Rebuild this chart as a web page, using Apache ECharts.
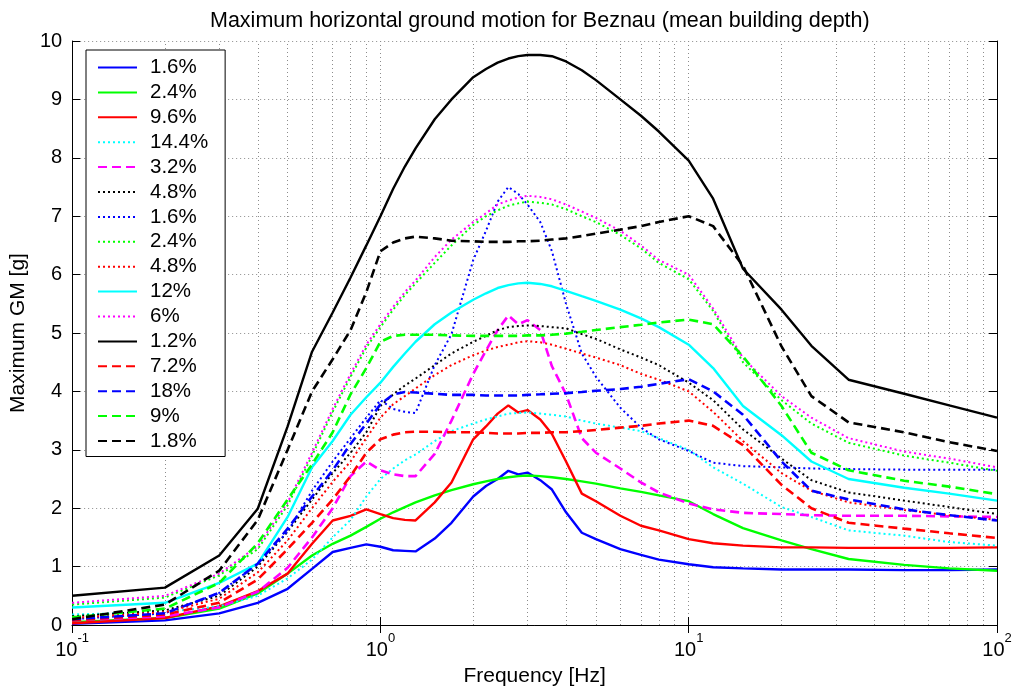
<!DOCTYPE html>
<html style="height: 100%">
<head>
    <meta charset="utf-8">
</head>
<body style="height: 100%; margin: 0; background: #fff">
<div id="main" style="width: 1015px; height: 692px"></div>
<script src="https://cdn.jsdelivr.net/npm/echarts@6/dist/echarts.min.js"></script>
<script type="text/javascript">
    // frequency grid [Hz], shared by every curve
    var freq = [0.1, 0.2, 0.3, 0.4, 0.5, 0.6, 0.7, 0.8, 0.9, 1, 1.1, 1.2, 1.3, 1.5, 1.7, 2, 2.2, 2.4, 2.6, 2.8,
        3, 3.3, 3.6, 4, 4.5, 5, 6, 7, 8, 10, 12, 15, 20, 25, 33, 50, 70, 100];

    // legend labels, in plot order
    var labels = ['1.6%', '2.4%', '9.6%', '14.4%', '3.2%', '4.8%', '1.6%', '2.4%', '4.8%', '12%', '6%', '1.2%', '7.2%', '18%', '9%', '1.8%'];

    // maximum GM [g] per curve
    var blueSolid = [0.02, 0.08, 0.2, 0.38, 0.62, 0.96, 1.25, 1.32, 1.38, 1.34, 1.28, 1.27, 1.26, 1.48, 1.75, 2.2, 2.38, 2.5, 2.64, 2.58,
        2.61, 2.48, 2.32, 1.93, 1.58, 1.47, 1.3, 1.2, 1.12, 1.04, 0.99, 0.97, 0.95, 0.95, 0.95, 0.94, 0.94, 0.95];
    var greenSolid = [0.05, 0.12, 0.28, 0.54, 0.88, 1.19, 1.39, 1.53, 1.68, 1.82, 1.93, 2.02, 2.1, 2.22, 2.31, 2.41, 2.46, 2.5, 2.53, 2.55,
        2.56, 2.55, 2.53, 2.5, 2.46, 2.42, 2.34, 2.28, 2.22, 2.12, 1.9, 1.66, 1.45, 1.3, 1.13, 1.03, 0.97, 0.93];
    var redSolid = [0.03, 0.12, 0.32, 0.58, 0.88, 1.39, 1.79, 1.87, 1.98, 1.9, 1.83, 1.8, 1.79, 2.1, 2.44, 3.18, 3.4, 3.62, 3.76, 3.64,
        3.68, 3.52, 3.27, 2.8, 2.25, 2.12, 1.87, 1.7, 1.62, 1.47, 1.4, 1.36, 1.33, 1.33, 1.32, 1.32, 1.32, 1.33];
    var cyanDotted = [0.18, 0.22, 0.32, 0.5, 0.8, 1.12, 1.5, 1.8, 2.2, 2.5, 2.68, 2.82, 2.92, 3.15, 3.32, 3.45, 3.52, 3.57, 3.62, 3.63,
        3.64, 3.62, 3.6, 3.57, 3.5, 3.45, 3.38, 3.32, 3.2, 3.0, 2.7, 2.42, 2.02, 1.85, 1.62, 1.53, 1.42, 1.36];
    var magentaDashed = [0.08, 0.15, 0.3, 0.57, 0.98, 1.5, 2.0, 2.55, 2.8, 2.65, 2.58, 2.55, 2.55, 2.93, 3.5, 4.3, 4.7, 5.05, 5.3, 5.15,
        5.22, 5.05, 4.43, 3.95, 3.2, 2.95, 2.68, 2.44, 2.27, 2.08, 1.98, 1.92, 1.9, 1.88, 1.87, 1.87, 1.86, 1.85];
    var blackDotted = [0.15, 0.25, 0.5, 1.0, 1.6, 2.15, 2.6, 2.95, 3.3, 3.75, 3.95, 4.1, 4.22, 4.45, 4.65, 4.85, 4.95, 5.05, 5.1, 5.12,
        5.13, 5.12, 5.1, 5.08, 4.98, 4.9, 4.72, 4.58, 4.45, 4.15, 3.85, 3.35, 2.85, 2.48, 2.27, 2.13, 2.02, 1.9];
    var blueDotted = [0.1, 0.2, 0.55, 1.05, 1.6, 2.3, 2.8, 3.2, 3.55, 3.85, 3.7, 3.65, 3.63, 4.45, 4.98, 6.25, 6.75, 7.25, 7.5, 7.38,
        7.2, 6.9, 6.4, 5.5, 4.65, 4.25, 3.72, 3.38, 3.18, 2.98, 2.78, 2.72, 2.7, 2.68, 2.67, 2.66, 2.66, 2.66];
    var greenDotted = [0.35, 0.47, 0.85, 1.3, 2.05, 2.9, 3.65, 4.25, 4.75, 5.1, 5.4, 5.65, 5.85, 6.2, 6.5, 6.85, 7.0, 7.1, 7.18, 7.22,
        7.25, 7.23, 7.2, 7.12, 7.0, 6.9, 6.68, 6.45, 6.2, 5.92, 5.38, 4.5, 3.85, 3.45, 3.12, 2.9, 2.78, 2.64];
    var redDotted = [0.12, 0.22, 0.45, 0.9, 1.45, 2.0, 2.45, 2.8, 3.2, 3.55, 3.78, 3.92, 4.05, 4.28, 4.45, 4.62, 4.7, 4.76, 4.8, 4.84,
        4.86, 4.84, 4.8, 4.73, 4.65, 4.58, 4.45, 4.3, 4.2, 4.0, 3.65, 3.15, 2.6, 2.3, 2.1, 1.97, 1.88, 1.8];
    var cyanSolid = [0.3, 0.38, 0.72, 1.05, 1.85, 2.7, 3.15, 3.6, 3.9, 4.15, 4.42, 4.65, 4.85, 5.15, 5.35, 5.57, 5.68, 5.77, 5.82, 5.85,
        5.86, 5.84, 5.8, 5.72, 5.63, 5.55, 5.4, 5.25, 5.1, 4.8, 4.4, 3.75, 3.25, 2.8, 2.5, 2.35, 2.25, 2.13];
    var magentaDotted = [0.38, 0.5, 0.88, 1.35, 2.1, 2.95, 3.7, 4.3, 4.8, 5.15, 5.45, 5.7, 5.9, 6.3, 6.6, 6.9, 7.05, 7.2, 7.27, 7.32,
        7.35, 7.33, 7.29, 7.2, 7.08, 6.97, 6.75, 6.5, 6.25, 6.0, 5.42, 4.57, 3.92, 3.55, 3.2, 2.97, 2.85, 2.7];
    var blackSolid = [0.5, 0.64, 1.19, 1.99, 3.4, 4.68, 5.35, 5.95, 6.5, 7.0, 7.47, 7.85, 8.16, 8.66, 9.0, 9.38, 9.52, 9.63, 9.7, 9.74,
        9.76, 9.76, 9.74, 9.65, 9.5, 9.33, 9.0, 8.72, 8.45, 7.95, 7.3, 6.1, 5.4, 4.78, 4.2, 3.96, 3.76, 3.55];
    var redDashed = [0.08, 0.18, 0.38, 0.78, 1.3, 1.75, 2.15, 2.55, 2.95, 3.18, 3.26, 3.3, 3.31, 3.31, 3.3, 3.3, 3.29, 3.28, 3.28, 3.28,
        3.29, 3.29, 3.3, 3.3, 3.32, 3.34, 3.38, 3.41, 3.45, 3.5, 3.41, 3.08, 2.4, 2.0, 1.75, 1.65, 1.57, 1.49];
    var blueDashed = [0.1, 0.2, 0.55, 1.05, 1.65, 2.2, 2.65, 3.1, 3.45, 3.78, 3.95, 3.99, 3.98, 3.96, 3.94, 3.94, 3.93, 3.93, 3.93, 3.93,
        3.94, 3.95, 3.96, 3.97, 3.99, 4.01, 4.04, 4.08, 4.13, 4.21, 4.0, 3.6, 2.8, 2.3, 2.15, 1.98, 1.88, 1.79];
    var greenDashed = [0.13, 0.28, 0.72, 1.4, 2.15, 2.75, 3.3, 3.95, 4.4, 4.85, 4.95, 4.97, 4.97, 4.97, 4.96, 4.95, 4.95, 4.95, 4.95, 4.95,
        4.96, 4.96, 4.97, 4.99, 5.02, 5.05, 5.1, 5.14, 5.18, 5.23, 5.15, 4.6, 3.75, 2.95, 2.65, 2.47, 2.37, 2.24];
    var blackDashed = [0.1, 0.35, 0.93, 1.8, 3.0, 4.0, 4.55, 5.05, 5.7, 6.4, 6.55, 6.62, 6.65, 6.62, 6.58, 6.57, 6.56, 6.56, 6.56, 6.57,
        6.57, 6.58, 6.6, 6.62, 6.66, 6.7, 6.77, 6.83, 6.9, 7.0, 6.83, 6.15, 4.77, 3.92, 3.47, 3.3, 3.13, 2.98];

    var curves = [blueSolid, greenSolid, redSolid, cyanDotted, magentaDashed, blackDotted, blueDotted, greenDotted,
        redDotted, cyanSolid, magentaDotted, blackSolid, redDashed, blueDashed, greenDashed, blackDashed];
    var colors = ['#0000ff', '#00ff00', '#ff0000', '#00ffff', '#ff00ff', '#000000', '#0000ff', '#00ff00',
        '#ff0000', '#00ffff', '#ff00ff', '#000000', '#ff0000', '#0000ff', '#00ff00', '#000000'];
    var kinds = ['solid', 'solid', 'solid', 'dotted', 'dashed', 'dotted', 'dotted', 'dotted',
        'dotted', 'solid', 'dotted', 'solid', 'dashed', 'dashed', 'dashed', 'dashed'];

    var FONT = 'Liberation Sans, Arial, Helvetica, sans-serif';
    var gridDash = { color: '#8c8c8c', width: 1, type: [1, 3] };

    // minor vertical grid lines at 2..9 of each decade
    var minorLines = [];
    [0.1, 1, 10].forEach(function (d) {
        for (var k = 2; k <= 9; k++) minorLines.push({ xAxis: +(k * d).toFixed(3) });
    });

    var series = curves.map(function (vals, i) {
        var lw = kinds[i] === 'dotted' ? 2 : (kinds[i] === 'dashed' ? 2.6 : 2.4);
        var dash = kinds[i] === 'dotted' ? [2, 3] : (kinds[i] === 'dashed' ? [9, 5] : 'solid');
        var s = {
            name: 's' + i,
            type: 'line',
            symbol: 'none',
            smooth: false,
            animation: false,
            data: freq.map(function (f, j) { return [f, vals[j]]; }),
            lineStyle: { color: colors[i], width: lw, type: dash },
            itemStyle: { color: colors[i] }
        };
        if (i === 0) {
            s.markLine = {
                silent: true,
                symbol: 'none',
                z: 1,
                animation: false,
                label: { show: false },
                lineStyle: gridDash,
                data: minorLines
            };
        }
        return s;
    });

    var chart = echarts.init(document.getElementById('main'));
    chart.setOption({
        backgroundColor: '#ffffff',
        animation: false,
        textStyle: { fontFamily: FONT, color: '#000' },
        title: {
            text: 'Maximum horizontal ground motion for Beznau (mean building depth)',
            left: 205,
            top: 5,
            textStyle: { fontFamily: FONT, fontSize: 21.5, fontWeight: 'normal', color: '#000' }
        },
        legend: {
            orient: 'vertical',
            left: 86,
            top: 50,
            data: series.map(function (s) { return s.name; }),
            formatter: function (name) { return labels[+name.slice(1)]; },
            itemWidth: 39,
            itemHeight: 10,
            itemGap: 3.9,
            padding: [7, 17, 5, 11],
            backgroundColor: '#ffffff',
            borderColor: '#000000',
            borderWidth: 1,
            borderRadius: 0,
            selectedMode: false,
            itemStyle: { opacity: 0 },
            textStyle: { fontFamily: FONT, fontSize: 20.5, lineHeight: 20, color: '#000', padding: [0, 0, 0, 8] }
        },
        grid: { left: 70, right: 18, top: 41, bottom: 65 },
        xAxis: [{
            type: 'log',
            logBase: 10,
            min: 0.1,
            max: 100,
            name: 'Frequency [Hz]',
            nameLocation: 'middle',
            nameGap: 41,
            nameTextStyle: { fontFamily: FONT, fontSize: 21, color: '#000' },
            axisLine: { lineStyle: { color: '#000', width: 1 } },
            axisTick: { inside: true, length: 8, lineStyle: { color: '#000' } },
            splitLine: { show: true, lineStyle: gridDash },
            axisLabel: {
                color: '#000',
                margin: 7,
                formatter: function (v) {
                    return '{b|10}{s|' + Math.round(Math.log(v) / Math.LN10) + '}';
                },
                rich: {
                    b: { fontFamily: FONT, fontSize: 20, color: '#000', lineHeight: 28, verticalAlign: 'bottom' },
                    s: { fontFamily: FONT, fontSize: 13, color: '#000', verticalAlign: 'top' }
                }
            }
        }, {
            type: 'log',
            logBase: 10,
            min: 0.1,
            max: 100,
            position: 'top',
            axisLine: { lineStyle: { color: '#000', width: 1 } },
            axisTick: { inside: true, length: 8, lineStyle: { color: '#000' } },
            axisLabel: { show: false },
            splitLine: { show: false }
        }],
        yAxis: [{
            type: 'value',
            min: 0,
            max: 10,
            interval: 1,
            name: 'Maximum GM [g]',
            nameLocation: 'middle',
            nameGap: 25,
            nameTextStyle: { fontFamily: FONT, fontSize: 21, color: '#000' },
            axisLine: { show: true, lineStyle: { color: '#000', width: 1 } },
            axisTick: { show: true, inside: true, length: 8, lineStyle: { color: '#000' } },
            splitLine: { show: true, lineStyle: gridDash },
            axisLabel: { color: '#000', fontFamily: FONT, fontSize: 20, margin: 10 }
        }, {
            type: 'value',
            min: 0,
            max: 10,
            interval: 1,
            position: 'right',
            axisLine: { show: true, lineStyle: { color: '#000', width: 1 } },
            axisTick: { show: true, inside: true, length: 8, lineStyle: { color: '#000' } },
            axisLabel: { show: false },
            splitLine: { show: false }
        }],
        series: series
    });
</script>
</body>
</html>
